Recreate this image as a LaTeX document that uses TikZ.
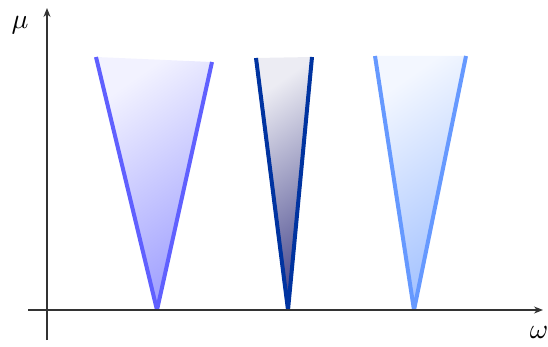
\documentclass[tikz,border=0pt]{standalone}
\usetikzlibrary{arrows.meta}
\definecolor{cA}{HTML}{6060FF}
\definecolor{cB}{HTML}{0033A0}
\definecolor{cBf}{HTML}{404088}
\definecolor{cC}{HTML}{6699FF}
\definecolor{axcol}{HTML}{333333}
\tikzset{
  axisline/.style={draw=axcol, line width=1.2pt, -{Stealth[length=9pt,width=7pt]}},
  coneedge/.style={line width=4pt, line join=miter, miter limit=20},
  lbl/.style={scale=2.8, inner sep=0pt}
}
\begin{document}
\begin{tikzpicture}[x=1pt,y=1pt]
\useasboundingbox (0,0) rectangle (548,346);
% axes
\coordinate (yb) at (47,6);
\coordinate (yt) at (47,338);
\coordinate (xl) at (28,36);
\coordinate (xr) at (543,36);
% cones (clipped at the omega axis)
\begin{scope}
\clip (0,36) rectangle (548,346);
% cone 1
\coordinate (a1) at (96,289);
\coordinate (a2) at (212,284);
\coordinate (a3) at (157,36);
\shade[top color=cA!8, bottom color=cA!60, shading angle=35] (a1) -- (a3) -- (a2) -- cycle;
\draw[coneedge, cA] (a1) -- (a3) -- (a2);
% cone 2
\coordinate (b1) at (256,288);
\coordinate (b2) at (312,289);
\coordinate (b3) at (288,36);
\shade[top color=cBf!10, bottom color=cBf!92, shading angle=35] (b1) -- (b3) -- (b2) -- cycle;
\draw[coneedge, cB] (b1) -- (b3) -- (b2);
% cone 3
\coordinate (c1) at (375,290);
\coordinate (c2) at (466,290);
\coordinate (c3) at (414,36);
\shade[top color=cC!8, bottom color=cC!60, shading angle=35] (c1) -- (c3) -- (c2) -- cycle;
\draw[coneedge, cC] (c1) -- (c3) -- (c2);
\end{scope}
\draw[axisline] (yb) -- (yt);
\draw[axisline] (xl) -- (xr);
\node[lbl] (mu) at (20,321) {$\mu$};
\node[lbl] (om) at (539,14) {$\omega$};
\end{tikzpicture}
\end{document}
